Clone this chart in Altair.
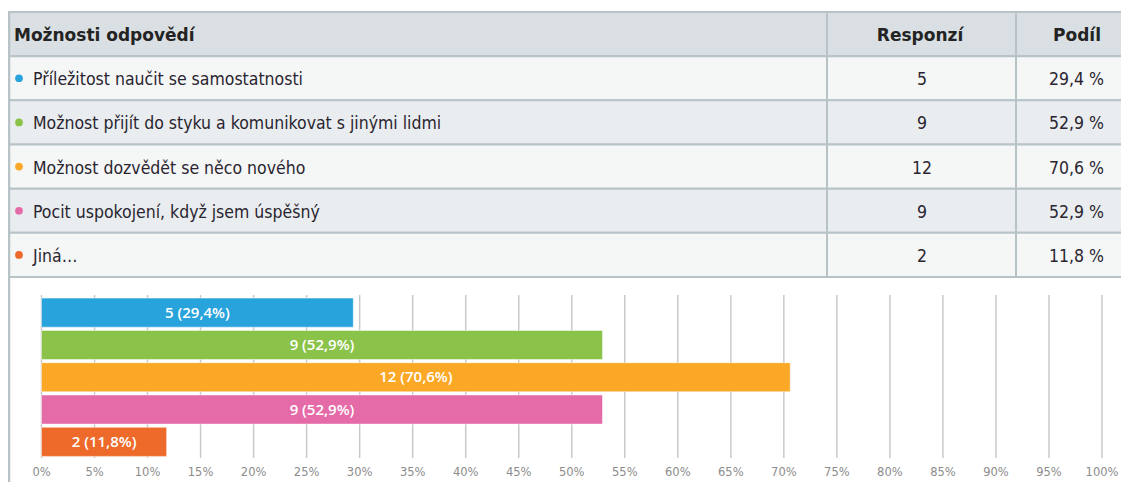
import altair as alt
import pandas as pd

# ---- data ----
headers = ["Možnosti odpovědí", "Responzí", "Podíl"]
options = [
    "Příležitost naučit se samostatnosti",
    "Možnost přijít do styku a komunikovat s jinými lidmi",
    "Možnost dozvědět se něco nového",
    "Pocit uspokojení, když jsem úspěšný",
    "Jiná…",
]
counts = [5, 9, 12, 9, 2]
shares = [29.4, 52.9, 70.6, 52.9, 11.8]
tick_values = [0, 5, 10, 15, 20, 25, 30, 35, 40, 45, 50, 55, 60, 65, 70, 75, 80, 85, 90, 95, 100]

# ---- style ----
colors = ["#29a3dc", "#8bc34a", "#fba827", "#e56aa8", "#ee6a2b"]
TABLE_FONT = "DejaVu Sans Condensed"
HEAD_FONT = "DejaVu Sans"
BORDER = "#b8c3c7"
W, H = 1112, 470
TABLE_H = 265


def pct(v):
    return f"{v:.1f}".replace(".", ",")


row_keys = ["h"] + [f"r{i + 1}" for i in range(len(options))]
rows_df = pd.DataFrame({
    "row": row_keys,
    "kind": ["header"] + ["light" if i % 2 == 0 else "dark" for i in range(len(options))],
})
opts_df = pd.DataFrame({
    "row": row_keys[1:],
    "option": options,
    "count": counts,
    "share": shares,
    "share_txt": [pct(v) + " %" for v in shares],
    "bar_txt": [f"{c} ({pct(v)}%)" for c, v in zip(counts, shares)],
})
ticks_df = pd.DataFrame({"t": tick_values, "lbl": [f"{t}%" for t in tick_values]})
hdr_df = pd.DataFrame({"row": ["h"], "a": [headers[0]], "b": [headers[1]], "c": [headers[2]]})

ROW_Y = alt.Y("row:N", sort=row_keys,
              scale=alt.Scale(domain=row_keys, range=[0, TABLE_H], paddingInner=0, paddingOuter=0),
              axis=None)
XS = alt.Scale(domain=[0, 100], range=[32.5, 1093])
YB = alt.Scale(domain=options, range=[284.5, 446], paddingInner=0.1, paddingOuter=0.05)
OPT_COLOR = alt.Color("option:N", scale=alt.Scale(domain=options, range=colors), legend=None)
FILL = alt.Fill("kind:N", scale=alt.Scale(domain=["header", "light", "dark"],
                                         range=["#d9dfe2", "#f5f6f6", "#e9edef"]), legend=None)

layers = []
# table cells (the last column runs past the right edge, as in the source)
for x0, x1 in [(0, 818), (818, 1007), (1007, W + 12)]:
    layers.append(
        alt.Chart(rows_df).mark_rect(stroke=BORDER, strokeWidth=2).encode(
            x=alt.value(x0), x2=alt.value(x1), y=ROW_Y, fill=FILL
        )
    )

# left border of chart box
layers.append(
    alt.Chart(rows_df.head(1)).mark_rule(color=BORDER, strokeWidth=2.5).encode(
        x=alt.value(0), y=alt.value(0), y2=alt.value(H)
    )
)

# header texts
hb = dict(font=HEAD_FONT, fontSize=17, fontWeight="bold", color="#232323", baseline="middle", dy=2)
layers.append(alt.Chart(hdr_df).mark_text(align="left", **hb).encode(x=alt.value(5), y=ROW_Y, text="a:N"))
layers.append(alt.Chart(hdr_df).mark_text(align="center", **hb).encode(x=alt.value(911), y=ROW_Y, text="b:N"))
layers.append(alt.Chart(hdr_df).mark_text(align="right", **hb).encode(x=alt.value(1092), y=ROW_Y, text="c:N"))

# row contents
rt = dict(font=TABLE_FONT, fontSize=17.5, color="#2a2530", baseline="middle", dy=2)
layers.append(alt.Chart(opts_df).mark_circle(size=60, opacity=1).encode(x=alt.value(10), y=ROW_Y, color=OPT_COLOR))
layers.append(alt.Chart(opts_df).mark_text(align="left", **rt).encode(x=alt.value(24), y=ROW_Y, text="option:N"))
layers.append(alt.Chart(opts_df).mark_text(align="center", **rt).encode(x=alt.value(913), y=ROW_Y, text="count:N"))
layers.append(alt.Chart(opts_df).mark_text(align="right", **rt).encode(x=alt.value(1095), y=ROW_Y, text="share_txt:N"))

# grid lines and tick labels
layers.append(
    alt.Chart(ticks_df).mark_rule(color="#c9c9c9", strokeWidth=1.5).encode(
        x=alt.X("t:Q", scale=XS, axis=None), y=alt.value(283), y2=alt.value(446)
    )
)
layers.append(
    alt.Chart(ticks_df).mark_text(font="DejaVu Sans", fontSize=11.5, color="#8c8c8c", baseline="middle").encode(
        x=alt.X("t:Q", scale=XS, axis=None), y=alt.value(461), text="lbl:N"
    )
)

# bars
layers.append(
    alt.Chart(opts_df).mark_bar(opacity=1, stroke="#ffffff", strokeWidth=0.8, strokeOpacity=0.6).encode(
        x=alt.X("share:Q", scale=XS, axis=None),
        y=alt.Y("option:N", sort=options, scale=YB, axis=None),
        color=OPT_COLOR,
    )
)
layers.append(
    alt.Chart(opts_df).transform_calculate(mid="datum.share / 2").mark_text(
        font="Open Sans", fontSize=15, fontWeight=600, color="white", baseline="middle"
    ).encode(
        x=alt.X("mid:Q", scale=XS, axis=None),
        y=alt.Y("option:N", sort=options, scale=YB, axis=None),
        text="bar_txt:N",
    )
)

chart = alt.layer(*layers).resolve_scale(
    x="independent", y="independent", color="independent", fill="independent"
).properties(
    width=W, height=H,
    padding={"left": 1, "top": 4, "right": 0, "bottom": 0},
    autosize=alt.AutoSizeParams(type="none"),
).configure_view(stroke=None)

chart.save("out.html", embed_options={"renderer": "svg", "actions": False})
